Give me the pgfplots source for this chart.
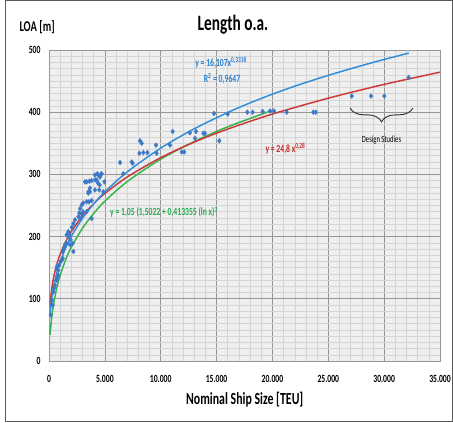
\documentclass[border=0pt]{standalone}
\usepackage{fontspec}
\setmainfont{Carlito}[FakeStretch=0.7]
\usepackage{pgfplots}
\usepackage{pgfplotstable}
\pgfplotsset{compat=1.18}
\usetikzlibrary{decorations.pathreplacing}
\definecolor{ptblue}{RGB}{62,120,200}
\definecolor{tblue}{RGB}{52,142,218}
\definecolor{tred}{RGB}{205,58,58}
\definecolor{tgreen}{RGB}{55,180,80}
\definecolor{txtblue}{RGB}{40,130,210}
\definecolor{txtred}{RGB}{200,40,40}
\definecolor{txtgreen}{RGB}{40,170,80}
\definecolor{plotbg}{RGB}{239,239,239}
\definecolor{gridmajor}{RGB}{150,150,150}
\definecolor{gridminor}{RGB}{212,212,212}

\pgfplotstableread{
x y
150 74
240 98
330 90
390 111
450 117
540 122
690 130
740 134
830 138
690 149
740 153
830 146
920 154
1050 160
1140 162
1230 165
1230 176
1340 181
1430 187
1590 189
1580 203
1730 200
1820 203
1730 208
1880 187
1940 195
2030 215
2120 189
2180 176
2180 221
2330 227
2630 232
2710 238
2780 245
2780 229
2930 251
2930 236
3040 240
3070 254
3370 256
3370 240
3520 270
3580 256
3670 272
3820 258
3820 229
3220 288
3370 288
3610 289
3820 290
4120 291
4270 291
3670 278
3520 272
4120 299
4330 301
4500 297
4630 300
4720 301
4570 296
4380 286
4540 283
4120 275
4500 275
4860 272
4960 288
6360 319
6650 301
7400 320
7490 318
8150 354
8300 350
8090 334
8440 335
8800 335
9580 347
9640 334
10830 347
11070 369
11880 336
12110 336
12620 367
13070 358
13160 369
13810 366
13960 366
15250 354
14770 398
16000 397
17750 400
18230 400
19130 401
19790 402
20140 402
21280 400
23660 400
23880 400
27100 426
28830 426
30020 426
32200 456
}\pts

\begin{document}
\begin{tikzpicture}
\useasboundingbox (0,0) rectangle (453bp,423bp);
\draw[line width=1bp, color=black!65] (5bp,1.3bp) rectangle (452.5bp,422.3bp);
\begin{axis}[
  at={(49bp,62bp)}, anchor=south west,
  width=391bp, height=311bp, scale only axis,
  xmin=0, xmax=35000, ymin=0, ymax=500,
  xtick={0,5000,10000,15000,20000,25000,30000,35000},
  xticklabels={0,5.000,10.000,15.000,20.000,25.000,30.000,35.000},
  ytick={0,100,200,300,400,500},
  yticklabels={0,100,200,300,400,500},
  minor x tick num=4, minor y tick num=9,
  grid=both,
  major grid style={color=gridmajor, line width=0.7bp},
  minor grid style={color=gridminor, line width=0.5bp},
  axis background/.style={fill=plotbg},
  axis line style={color=gridmajor, line width=0.8bp},
  major tick length=0pt, minor tick length=0pt,
  ticklabel style={font=\fontsize{11}{12}\selectfont\bfseries},
  xticklabel style={anchor=base, inner sep=0pt, yshift=-21.7bp},
  yticklabel style={anchor=east, inner sep=0pt, xshift=-8.3bp},
  scaled ticks=false,
  clip=false,
]
\addplot[only marks, mark=diamond*, mark size=2.4bp, color=ptblue] table {\pts};
\addplot[no marks, smooth, color=tgreen, line width=1.5bp] coordinates {
(100,41.9) (150,53.5) (200,63.0) (300,78.2) (500,100.7) (750,121.4) (1000,137.7) (1500,163.2) (2000,183.0) (3000,213.6) (4000,237.3) (5000,256.9) (7000,288.4) (10000,324.5) (13000,352.8) (16000,376.5) (20000,403.0)};
\addplot[no marks, smooth, color=tred, line width=1.5bp] coordinates {
(90,87.4) (150,100.9) (300,122.5) (500,141.3) (750,158.3) (1000,171.6) (1500,192.2) (2000,208.3) (3000,233.4) (4000,253.0) (5000,269.3) (7000,295.8) (10000,326.9) (13000,351.9) (16000,372.9) (20000,397.0) (25000,422.5) (30000,444.7) (35000,464.3)};
\addplot[no marks, smooth, color=tblue, line width=1.5bp] coordinates {
(100,74.2) (200,93.4) (300,106.9) (500,126.6) (750,144.9) (1000,159.4) (1500,182.3) (2000,200.6) (3000,229.5) (4000,252.5) (5000,271.9) (7000,304.0) (10000,342.2) (13000,373.3) (16000,399.5) (18000,415.0) (20000,429.0) (22000,441.8) (24000,453.6) (26000,464.6) (28000,475.0) (30000,484.8) (32200,495.0)};
\node[text=txtblue, font=\fontsize{11}{12}\selectfont\bfseries] at (axis cs:15400,479.6) {y = 16,107x\textsuperscript{0,3318}};
\node[text=txtblue, font=\fontsize{11}{12}\selectfont\bfseries] at (axis cs:15490,453.9) {R\textsuperscript{2} = 0,9647};
\node[text=txtred, font=\fontsize{11}{12}\selectfont\bfseries] at (axis cs:21170,342) {y = 24,8 x\textsuperscript{0,28}};
\node[text=txtgreen, font=\fontsize{11}{12}\selectfont\bfseries, anchor=west, inner sep=0pt] at (axis cs:5461,239) {y = 1,05 (1,5022 + 0,413355 (ln x)\textsuperscript{3}};
\node[font=\fontsize{9.5}{10}\selectfont] at (axis cs:29765,355.3) {Design Studies};
\draw[decorate, decoration={brace, mirror, amplitude=14bp}, line width=0.9bp, color=black!80] (axis cs:26945,407) -- (axis cs:32585,407);
\end{axis}
\node[anchor=base, inner sep=0pt, font=\fontsize{22}{24}\selectfont\bfseries] at (233bp,392.3bp) {Length o.a.};
\node[anchor=base west, inner sep=0pt, font=\fontsize{15}{16}\selectfont\bfseries] at (19.3bp,391.3bp) {LOA [m]};
\node[anchor=base, inner sep=0pt, font=\fontsize{17}{18}\selectfont\bfseries] at (244.7bp,19bp) {Nominal Ship Size [TEU]};
\end{tikzpicture}
\end{document}
